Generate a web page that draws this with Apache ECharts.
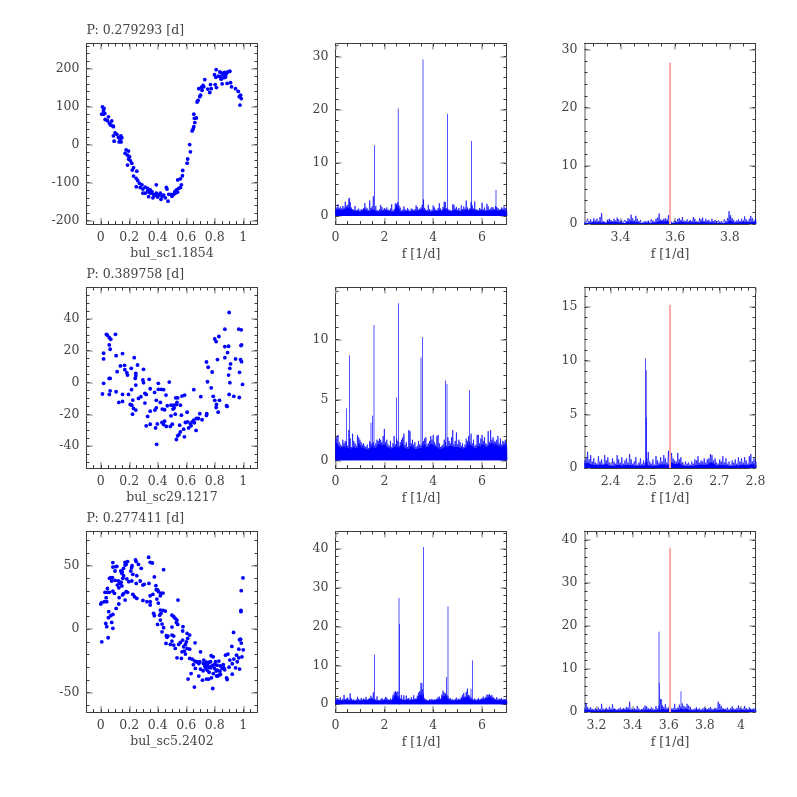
<!DOCTYPE html>
<html>
<head>
<meta charset="utf-8">
<style>html,body{margin:0;padding:0;background:#fff}#chart{width:797px;height:797px}</style>
<script src="https://cdn.jsdelivr.net/npm/echarts@6/dist/echarts.min.js"></script>
</head>
<body>
<div id="chart"></div>
<script>
// phase folded light curves
const curve1 = [[.012,99],[.023,95],[.019,89],[.007,80],[.019,80],[.028,82],[.031,66],[.054,73],[.047,63],[.077,62],[.061,56],[.07,51],[.085,49],[.089,47],[.101,31],[.089,23],[.113,27],[.094,9],[.124,19],[.141,23],[.148,18],[.129,7],[.143,7],[.136,12],[.178,-14],[.195,-17],[.171,-23],[.188,-28],[.202,-32],[.195,-38],[.207,-42],[.188,-54],[.218,-49],[.23,-61],[.221,-67],[.253,-70],[.23,-83],[.249,-89],[.26,-95],[.272,-102],[.289,-106],[.249,-111],[.277,-113],[.296,-117],[.312,-112],[.329,-115],[.347,-119],[.296,-128],[.312,-128],[.336,-125],[.359,-124],[.39,-106],[.371,-131],[.336,-137],[.366,-140],[.39,-128],[.406,-133],[.423,-144],[.418,-128],[.46,-113],[.465,-117],[.453,-140],[.441,-133],[.477,-131],[.472,-149],[.495,-131],[.512,-131],[.523,-128],[.531,-119],[.547,-115],[.559,-113],[.54,-125],[.566,-106],[.54,-93],[.559,-90],[.573,-82],[.575,-68],[.61,-38],[.606,-49],[.624,0],[.629,-19],[.641,36],[.648,41],[.653,47],[.66,58],[.657,69],[.671,70],[.653,80],[.676,112],[.683,116],[.7,130],[.695,126],[.688,147],[.707,151],[.718,156],[.73,171],[.723,152],[.711,143],[.751,146],[.765,137],[.77,158],[.775,147],[.798,184],[.803,158],[.81,197],[.808,177],[.812,150],[.836,191],[.84,178],[.852,160],[.845,172],[.859,184],[.869,190],[.876,178],[.887,161],[.892,191],[.906,193],[.911,163],[.918,152],[.946,147],[.965,140],[.972,126],[.981,130],[.986,121],[.977,104],[.33,-122],[.35,-128],[.38,-134],[.4,-138],[.43,-136],[.5,-136],[.52,-124],[.85,188],[.865,176],[.88,186],[.825,180]];
const curve2 = [[.012,-7.2],[.02,-.5],[.02,18.4],[.02,14.8],[.04,30.3],[.047,29.7],[.06,28.2],[.07,27.2],[.06,23.6],[.066,20.9],[.103,30.3],[.108,16.9],[.059,2.6],[.066,2.6],[.066,-5.2],[.06,-7.5],[.108,-5.8],[.115,6.8],[.138,10.4],[.153,18.2],[.167,10.8],[.169,8.1],[.183,6.2],[.188,4.7],[.153,-7.5],[.127,-12.5],[.153,-11.9],[.195,-7.5],[.214,8.9],[.235,15.6],[.258,11],[.246,5.8],[.246,4.1],[.242,2.6],[.216,-4.5],[.246,-1.6],[.3,8.3],[.296,1.6],[.3,-.1],[.34,2],[.347,-3.9],[.31,-6.8],[.319,-7.5],[.282,-8.9],[.265,-10],[.225,-11],[.207,-13.8],[.218,-14.2],[.23,-16.3],[.246,-17.3],[.223,-19.9],[.31,-12.9],[.347,-18],[.329,-21.3],[.319,-27.2],[.347,-26.2],[.378,-6.2],[.404,-4.3],[.404,-.5],[.423,-4.3],[.441,-4.5],[.39,-11.2],[.418,-12.5],[.458,-7.9],[.481,.3],[.38,-17.3],[.39,-15.9],[.432,-16.7],[.448,-17.1],[.467,-14.6],[.493,-14.2],[.512,-14.2],[.493,-20.9],[.523,-19.9],[.507,-16.7],[.526,-9.6],[.54,-9.6],[.535,-12.5],[.531,-13.8],[.516,-15.9],[.559,-14.2],[.57,-8.5],[.589,-7.9],[.653,-4.5],[.702,-8.9],[.606,-18.6],[.566,-20.5],[.695,-19.6],[.744,-19.6],[.742,-20.7],[.594,-25.1],[.61,-24.7],[.653,-23.6],[.671,-22.6],[.685,-22.6],[.711,-23.4],[.641,-24.7],[.629,-26],[.657,-25.3],[.617,-28.5],[.634,-27.2],[.582,-29.3],[.669,-30.1],[.559,-31],[.54,-33.5],[.549,-32.7],[.587,-34.1],[.531,-35.8],[.392,-38.8],[.385,-28.5],[.397,-26],[.43,-25.1],[.448,-24.3],[.441,-26.4],[.46,-27.6],[.488,-27.6],[.502,-26.2],[.554,-26.8],[.742,12.9],[.754,9.6],[.782,6.6],[.749,.5],[.775,-3.3],[.789,-8.7],[.8,-11.2],[.833,-11.2],[.812,-13.8],[.81,-15.7],[.824,-18.6],[.8,27.4],[.81,25.7],[.829,28.9],[.819,14.4],[.871,33.5],[.871,22.6],[.897,22.8],[.89,18.8],[.871,15.6],[.911,11.7],[.906,8.9],[.897,4.7],[.906,-.1],[.901,-7.5],[.934,-8.7],[.883,-14.6],[.887,-15],[.901,44],[.969,33.5],[.986,33.1],[.988,23.6],[.984,23.2],[.946,14.8],[.981,14.4],[.988,13.1],[.974,6.4],[.995,-1.2],[.972,-9.4]];
const curve3 = [[.007,-10],[0,19.8],[.007,20.8],[.026,21.6],[.038,24.8],[.042,21.6],[.03,29],[.047,29],[.047,32],[.061,29],[.035,4.5],[.042,1.9],[.052,-6.8],[.054,9],[.056,13.7],[.07,10.6],[.085,11.6],[.077,5.3],[.085,.6],[.108,16.3],[.127,19.8],[.085,52.4],[.085,48.9],[.106,49.2],[.113,49.5],[.1,45.8],[.061,40],[.07,40.5],[.082,40.5],[.077,37.9],[.101,38.4],[.124,37.9],[.131,36],[.117,34.7],[.143,36.9],[.127,32.6],[.148,34],[.085,30],[.096,28.2],[.129,24.8],[.153,26.9],[.16,27.9],[.178,29.5],[.188,29],[.171,22.9],[.141,45.8],[.148,44],[.16,42.1],[.155,40],[.183,39.5],[.197,37.4],[.218,37.9],[.171,52.6],[.188,53.2],[.178,51],[.171,50.5],[.16,47.9],[.15,45.3],[.22,50],[.216,48.4],[.211,45.8],[.225,43.2],[.244,54.5],[.249,53.2],[.265,51],[.284,47.9],[.253,42.1],[.277,37.9],[.249,36],[.225,27.4],[.237,25.5],[.253,24.2],[.296,34.7],[.305,35.3],[.296,22.6],[.336,56.6],[.347,52.6],[.362,52.1],[.376,41.1],[.338,36],[.387,34.2],[.39,31],[.347,26.3],[.366,27.4],[.324,21.6],[.347,21.6],[.347,19],[.399,30.8],[.406,29.5],[.423,28.2],[.437,28.4],[.418,26.3],[.394,23.7],[.404,20.5],[.441,46.8],[.542,22.9],[.418,15],[.437,14.8],[.453,14.2],[.423,12.4],[.413,11],[.371,12.4],[.376,10.6],[.418,7.1],[.399,3.7],[.43,4],[.441,1.1],[.5,11],[.512,9.8],[.523,8.4],[.535,7.1],[.531,5.3],[.54,3.7],[.5,1.6],[.577,1.9],[.575,-1.5],[.43,-2.1],[.46,-5.2],[.472,-5.5],[.465,-6.5],[.5,-4.7],[.512,-5.5],[.458,-11.3],[.488,-12.1],[.512,-12.6],[.523,-15.2],[.5,-9.4],[.547,-12.1],[.559,-10.5],[.575,-8.6],[.606,-3.4],[.624,-4.7],[.61,-7.3],[.601,-10],[.594,-12.1],[.582,-13.9],[.606,-15.2],[.624,-15.8],[.587,-17.3],[.662,-10.8],[.535,-22.6],[.566,-23.1],[.57,-17.9],[.594,-19.7],[.624,-23.1],[.641,-23.6],[.657,-25],[.671,-25.7],[.7,-17.9],[.695,-25.7],[.688,-27.1],[.664,-31],[.7,-31.5],[.723,-24.4],[.735,-27.8],[.746,-27],[.758,-26.3],[.77,-25.7],[.775,-21],[.789,-21.8],[.751,-28.9],[.735,-30.5],[.718,-32.8],[.746,-32.3],[.77,-30.5],[.789,-28.4],[.805,-25.7],[.829,-25.2],[.817,-28.4],[.798,-31],[.817,-32.3],[.836,-33.1],[.852,-31],[.864,-30.5],[.876,-20.5],[.892,-19.7],[.906,-24.4],[.923,-27.3],[.934,-23.6],[.953,-20.5],[.946,-30.5],[.974,-31.5],[.92,-13.6],[.932,-2.6],[.974,-8.4],[.981,-7.9],[.986,-11],[.969,-15.8],[1,-16.3],[.991,-21.8],[.969,-22.6],[.958,-25.7],[.613,-39.4],[.634,-35],[.657,-45.7],[.688,-37],[.714,-40.2],[.742,-39.4],[.758,-39.4],[.777,-38.4],[.786,-46.8],[.812,-36.8],[.829,-36.3],[.84,-35.7],[.883,-38.4],[.887,-39.7],[.923,-35.5],[.984,14.8],[.984,13.7],[.986,30.3],[.998,40.3],[.72,-27],[.73,-29],[.76,-30],[.78,-29],[.8,-28],[.81,-33],[.84,-29],[.86,-28],[.87,-32],[.9,-30],[.68,-26],[.65,-28],[.76,-34],[.79,-35],[.82,-37],[.74,-26]];

// periodogram noise, one height per frequency bin
const noise1 = [1.3,1.6,2.2,1.5,1.8,1.4,1.9,1.6,2.7,1.9,2.1,3.3,2.6,1.6,1.3,1.2,1.9,1.1,1.2,1.4,1.0,1.3,1.2,1.5,2.4,1.6,1.4,1.1,2.9,1.5,1.8,3.7,1.2,1.9,1.1,1.0,1.3,2.1,1.7,1.2,1.5,1.3,1.6,1.2,1.1,1.4,2.2,1.0,1.3,2.4,2.3,2.6,2.0,1.6,1.0,1.2,1.8,1.3,1.1,1.5,1.2,1.0,1.4,1.3,1.1,1.3,2.0,1.7,1.2,1.4,1.6,2.1,3.1,1.5,1.2,1.1,2.1,1.3,1.0,1.2,2.0,1.6,1.2,1.1,1.5,2.4,1.4,1.1,1.7,2.7,2.6,1.5,1.3,1.2,1.1,1.0,2.2,2.1,1.4,1.7,1.2,1.5,1.1,2.0,1.3,1.8,1.4,2.9,1.6,1.2,1.5,2.6,2.0,1.4,2.7,1.3,1.2,1.1,1.5,1.3,2.5,1.2,1.6,1.1,2.3,1.8,1.2,1.4,1.7,1.6,1.3,1.9,1.7,1.5,1.2,1.3,1.6,1.4,1.8,1.5,1.2];
const noise2 = [1.8,1.9,2.1,1.5,1.3,1.2,1.7,1.4,1.6,1.5,1.2,2.5,1.8,1.1,2.2,1.6,1.4,1.2,2.1,1.9,1.7,1.5,1.3,1.4,1.2,1.1,1.3,1.0,1.6,1.4,1.3,1.5,1.2,1.4,1.7,1.6,1.8,1.7,1.5,2.0,2.6,1.5,1.7,1.3,1.2,1.6,1.1,1.4,2.0,1.3,1.8,1.6,1.2,1.5,1.7,1.9,2.2,1.3,1.5,1.1,2.5,2.4,1.4,1.7,1.3,1.5,1.1,1.2,1.6,1.3,1.2,1.4,1.6,1.8,1.9,1.3,1.4,1.6,2.0,1.7,2.1,1.5,1.3,2.0,2.1,1.4,1.1,1.2,1.3,1.7,1.5,1.2,1.9,1.6,1.4,1.9,2.5,1.3,1.6,2.3,1.3,1.7,1.5,1.2,1.4,1.1,1.3,1.8,1.6,2.0,1.5,2.2,1.4,1.7,1.2,1.3,2.1,2.1,1.4,1.8,2.1,1.6,1.9,1.4,1.3,2.4,1.5,2.5,1.7,1.9,1.6,1.5,1.7,2.0,1.4,1.8,1.3,1.6,1.5,1.7,1.4];
const noise3 = [1.2,1.5,1.6,1.3,1.8,1.1,1.4,2.4,1.3,1.5,1.7,1.2,2.8,1.5,1.1,1.3,1.0,1.2,1.9,1.4,1.1,1.6,1.2,1.5,1.3,1.9,1.2,1.4,1.6,2.2,1.7,3.1,1.4,1.2,2.0,1.1,1.0,1.3,1.6,1.2,1.4,1.9,1.7,1.3,1.1,1.5,1.2,2.3,3.0,3.4,3.1,3.3,2.1,1.5,2.4,1.3,2.3,1.2,2.2,1.4,1.6,1.2,1.8,1.3,2.3,1.4,1.5,2.2,3.0,3.4,5.5,3.8,2.6,1.5,1.3,1.1,1.0,1.3,1.2,1.4,1.1,1.3,1.2,1.5,1.8,2.0,1.4,2.5,3.5,3.0,2.8,2.4,2.2,1.5,1.6,1.2,1.3,1.1,1.4,1.7,1.2,1.5,1.3,1.9,2.4,2.9,2.0,3.2,4.0,2.4,2.2,1.7,1.3,1.2,1.5,1.1,1.3,1.6,1.2,1.4,1.6,2.0,1.5,1.9,2.5,2.4,2.6,2.2,2.4,1.9,1.6,1.3,1.8,1.2,1.5,1.3,1.6,1.2,1.4,1.3,1.2];
const noise4 = [.4,.3,.9,.5,.8,.4,1.0,.6,.9,.5,1.2,1.9,.5,.4,.3,.8,.9,.7,.5,.9,.6,1.1,.8,.4,.6,.3,.7,.5,1.0,.8,1.6,1.0,.6,1.4,.9,.5,.7,.3,.4,.5,.4,.6,.3,.8,.6,.4,.9,1.1,1.8,.8,.7,.9,1.0,.8,1.5,1.2,.4,.3,.6,.4,.9,1.0,.7,1.2,.6,.5,.8,.4,.7,.5,1.2,.9,.5,.4,1.0,.8,1.1,.5,.9,.6,.7,.4,.9,.5,.7,.3,.6,.4,.5,.3,.8,.5,1.0,2.2,1.5,1.0,.7,.4,.6,.8,.5,.9,.6,1.3,.8,.5,.9,1.4,1.0,.6,.9];
const noise5 = [.7,.9,1.5,.8,1.2,.6,.9,.5,.4,1.1,.6,.8,.4,1.2,.7,1.0,.5,.3,.9,.6,.4,1.2,.8,.5,1.0,.4,.7,.9,.5,1.3,.8,.4,.6,1.0,.3,.5,.9,.4,.7,.5,.9,1.5,.6,.4,.8,.3,1.1,.7,.5,1.0,.6,1.2,.9,.5,1.6,1.0,1.4,.9,.7,.6,1.4,.8,1.0,.5,.3,.6,.4,.5,.3,.6,.4,.8,.7,1.1,.5,.7,.6,.9,.5,.8,.9,1.3,1.2,.7,.9,.5,.4,.8,.6,1.1,.5,.9,.4,.6,.3,.7,.5,.8,.4,1.0,.6,.9,.5,1.0,.7,.4,1.1,1.3,.6,.9,.7];
const noise6 = [.9,2.0,1.2,.8,1.1,.7,.6,.9,.5,1.0,.7,1.9,.8,.6,1.0,.7,1.2,.8,1.8,.9,.7,.6,.8,1.0,.7,.9,.8,1.2,1.0,2.4,.8,.6,.9,.7,1.4,.8,.5,.7,1.0,1.5,1.3,.9,.7,1.1,.8,.6,1.4,.8,1.5,3.0,1.6,1.2,1.8,1.0,.9,1.3,.8,.9,1.9,.8,1.0,1.7,1.2,2.0,1.4,1.1,1.9,1.5,1.2,.7,.6,.8,1.1,.7,.9,.6,.8,1.0,.9,.7,.9,1.2,.8,.6,1.0,.8,2.4,1.9,1.4,.9,.7,.8,1.0,.6,.9,1.3,.8,.7,.9,1.5,1.0,.7,.8,1.4,.9,.7,1.1,.8,.7,.9,.6];

// peaks standing above the noise, [f, power]
const peaks1 = [[1.596,13.3],[2.57,20.2],[3.582,29.4],[4.585,19.2],[5.567,14.1],[6.57,4.9],[.58,3.4]];
const peaks2 = [[.45,4.3],[.573,8.7],[1.453,3.1],[1.515,3.7],[1.576,11.2],[2.497,5.2],[2.579,13],[3.5,8.5],[3.561,10.2],[4.503,6.6],[4.564,6.3],[5.485,5.8]];
const peaks3 = [[1.596,12.8],[2.599,27.4],[2.62,20.7],[3.541,5.5],[3.602,40.5],[4.544,7],[4.605,25.2],[5.608,11.3],[5.546,4]];
const peaks4 = [];
const peaks5 = [[2.4964,10.2],[2.4985,9.1],[2.4991,4.7]];
const peaks6 = [[3.546,18.7],[3.5488,6.8],[3.6677,4.8],[3.5607,3]];

// frequency removed from the spectrum, drawn in red
const redLine4 = [3.581,27.7];
const redLine5 = [2.564,15.2];
const redLine6 = [3.607,38.2];

const starNames = ['bul_sc1.1854','bul_sc29.1217','bul_sc5.2402'];
const periods = ['P: 0.279293 [d]','P: 0.389758 [d]','P: 0.277411 [d]'];
const freqLabel = 'f [1/d]';

const phaseTicks = [0,0.2,0.4,0.6,0.8,1];
const curveTicks = [[-200,-100,0,100,200],[-40,-20,0,20,40],[-50,0,50]];
const specTicks = [0,2,4,6];
const specPowerTicks = [[0,10,20,30],[0,5,10],[0,10,20,30,40]];
const zoomFreqTicks = [[3.4,3.6,3.8],[2.4,2.5,2.6,2.7,2.8],[3.2,3.4,3.6,3.8,4]];
const zoomPowerTicks = [[0,10,20,30],[0,5,10,15],[0,10,20,30,40]];

const colLeft = [86.5,335.5,584.5];
const rowTop = [43.5,287.5,531.5];
const boxW = 171;
const boxH = 180.5;
const ink = '#3c3c3c';
const textInk = '#444';
const font = 'DejaVu Serif';
const fontSize = 12.5;

function between(min, max, step) {
  const out = [];
  for (let i = Math.ceil(min / step - 1e-9); i * step <= max + 1e-9; i++) {
    out.push(Math.round(i * step * 1000) / 1000);
  }
  return out;
}

// spikes from the floor
function noiseLine(values, fMin, fMax) {
  const step = (fMax - fMin) / (values.length - 1);
  const out = [];
  values.forEach((v, i) => {
    out.push([fMin + i * step, v], [fMin + (i + 0.5) * step, 0]);
  });
  return out;
}

// solid part of the band: whatever all neighbouring bins reach
function noiseBase(values, fMin, fMax, keep) {
  const step = (fMax - fMin) / (values.length - 1);
  return values.map((v, i) => {
    const low = Math.min(v, values[i - 1] ?? v, values[i + 1] ?? v);
    return [fMin + i * step, low * keep];
  });
}

// one open segment per peak, a gap between them
function peakLine(peaks) {
  const out = [];
  peaks.forEach(([f, p]) => out.push([f, 0], [f, p], [f, null]));
  return out;
}

const grids = [], xAxes = [], yAxes = [], series = [], titles = [];

function makeAxes(grid, axisList, range, majors, minorStep, side, opp, labelled, name, gap, edgeGrey) {
  const first = axisList.length;
  const minors = between(range[0], range[1], minorStep);
  const common = {gridIndex: grid, type: 'value', min: range[0], max: range[1], splitLine: {show: false}, silent: true};
  const tick = (values, length, color, width) => ({show: true, inside: true, length, customValues: values, lineStyle: {color, width}});
  const noLine = {show: false, onZero: false};
  const frame = {show: true, onZero: false, lineStyle: {color: ink, width: 1}};
  const greyFrame = {show: true, onZero: false, lineStyle: {color: '#aaa', width: 2}};
  axisList.push({...common, position: side,
    axisLine: edgeGrey ? greyFrame : frame,
    axisTick: tick(majors, 6, '#a8a8a8', 1.6),
    axisLabel: labelled ? {show: true, customValues: majors, margin: 7, color: textInk, fontFamily: font, fontSize, formatter: v => String(v)} : {show: false},
    name: name || '', nameLocation: 'middle', nameGap: gap, nameTextStyle: {color: textInk, fontFamily: font, fontSize}});
  axisList.push({...common, position: side, axisLine: noLine, axisTick: tick(minors, 3, ink, 1), axisLabel: {show: false}});
  axisList.push({...common, position: opp, axisLine: frame, axisTick: tick(majors, 6, '#a8a8a8', 1.6), axisLabel: {show: false}});
  axisList.push({...common, position: opp, axisLine: noLine, axisTick: tick(minors, 3, ink, 1), axisLabel: {show: false}});
  return first;
}

function addPanel(col, row, xRange, xTicks, xMinor, yRange, yTicks, yMinor, xName, greyLeft) {
  const g = grids.length;
  grids.push({show: false, left: colLeft[col], top: rowTop[row], width: boxW, height: boxH});
  const xi = makeAxes(g, xAxes, xRange, xTicks, xMinor, 'bottom', 'top', true, xName, col === 0 ? 23 : 24, false);
  const yi = makeAxes(g, yAxes, yRange, yTicks, yMinor, 'left', 'right', true, '', 0, greyLeft);
  return {xAxisIndex: xi, yAxisIndex: yi};
}

function thinLine(ax, data, color, width) {
  series.push({type: 'line', ...ax, data, symbol: 'none', silent: true, animation: false, clip: true,
    connectNulls: false, lineStyle: {color, width}, itemStyle: {color}});
}

function solidBand(ax, data, color) {
  series.push({type: 'line', ...ax, data, symbol: 'none', silent: true, animation: false, clip: true,
    lineStyle: {width: 0}, areaStyle: {color, opacity: 1, origin: 0}, itemStyle: {color}});
}

const curves = [curve1, curve2, curve3];
const curveRanges = [[-209,266],[-53.7,59.7],[-65.3,76.9]];
const curveMinor = [20,5,10];
const specNoise = [noise1, noise2, noise3];
const specPeaks = [peaks1, peaks2, peaks3];
const specRanges = [[-1.5,32.4],[-0.64,14.3],[-2,44.5]];
const specMinor = [2,1,2];
const zoomNoise = [noise4, noise5, noise6];
const zoomPeaks = [peaks4, peaks5, peaks6];
const zoomRed = [redLine4, redLine5, redLine6];
const zoomX = [[3.268,3.894],[2.328,2.8],[3.134,4.08]];
const zoomXMinor = [0.05,0.02,0.05];
const zoomY = [[0,31],[0,16.8],[0,42]];
const zoomYMinor = [2,1,2];

for (let r = 0; r < 3; r++) {
  const a = addPanel(0, r, [-0.1,1.1], phaseTicks, 0.05, curveRanges[r], curveTicks[r], curveMinor[r], starNames[r], false);
  series.push({type: 'scatter', ...a, data: curves[r], symbolSize: 3.8, silent: true, animation: false, itemStyle: {color: '#0000ff', opacity: 1}});
  titles.push({text: periods[r], left: colLeft[0], top: rowTop[r] - 19, textStyle: {color: textInk, fontFamily: font, fontSize, fontWeight: 'normal'}, padding: 0});

  const b = addPanel(1, r, [0,7], specTicks, 0.5, specRanges[r], specPowerTicks[r], specMinor[r], freqLabel, false);
  thinLine(b, noiseLine(specNoise[r], 0, 7), '#0000ff', 0.67);
  solidBand(b, noiseBase(specNoise[r], 0, 7, 0.85), '#0000ff');
  thinLine(b, peakLine(specPeaks[r]), '#0000ff', 0.67);

  const c = addPanel(2, r, zoomX[r], zoomFreqTicks[r], zoomXMinor[r], zoomY[r], zoomPowerTicks[r], zoomYMinor[r], freqLabel, true);
  thinLine(c, noiseLine(zoomNoise[r], zoomX[r][0], zoomX[r][1]), '#0000ff', 0.67);
  solidBand(c, noiseBase(zoomNoise[r], zoomX[r][0], zoomX[r][1], 0.6), '#0000ff');
  thinLine(c, peakLine(zoomPeaks[r]), '#0000ff', 0.67);
  thinLine(c, peakLine([zoomRed[r]]), '#ffaaaa', 2);
}

const chart = echarts.init(document.getElementById('chart'), null, {renderer: 'canvas'});
chart.setOption({animation: false, backgroundColor: '#fff', title: titles, grid: grids, xAxis: xAxes, yAxis: yAxes, series});
</script>
</body>
</html>
